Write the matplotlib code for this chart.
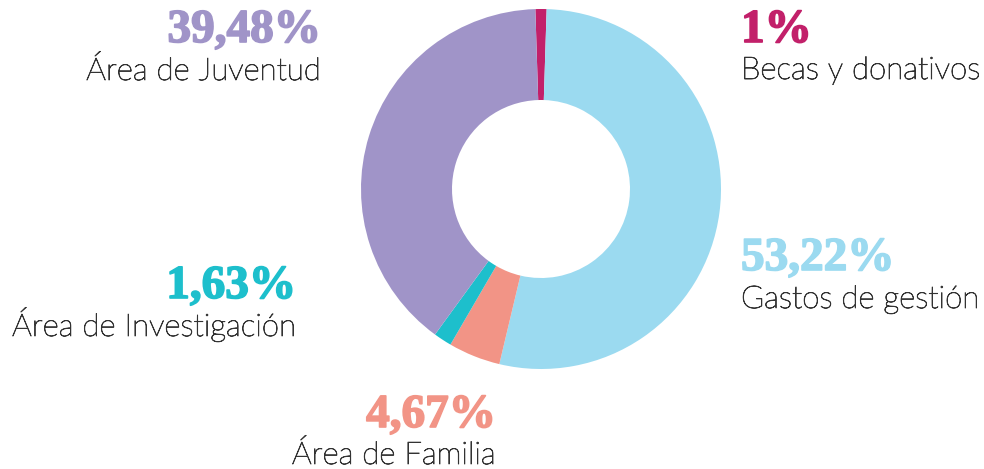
import matplotlib
matplotlib.use("Agg")
import matplotlib.pyplot as plt
import matplotlib.patheffects as pe

# data (clockwise from the top)
labels = ["Becas y donativos", "Gastos de gestión", "Área de Familia",
          "Área de Investigación", "Área de Juventud"]
values = [1.00, 53.22, 4.67, 1.63, 39.48]
pct_text = ["1%", "53,22%", "4,67%", "1,63%", "39,48%"]
colors = ["#C2206A", "#9BDAF0", "#F29486", "#1DBFCC", "#A094C8"]

W, H = 984, 469
fig = plt.figure(figsize=(W / 100, H / 100), dpi=100)
ax = fig.add_axes([0, 0, 1, 1])

cx, cy, r = 541, H - 189, 180
start = 90 + values[0] / 100 * 360 / 2
ax.pie(values, colors=colors, startangle=start, counterclock=False,
       center=(cx, cy), radius=r, frame=True,
       wedgeprops=dict(width=r - 89, linewidth=0))
ax.set_xlim(0, W)
ax.set_ylim(0, H)
ax.axis("off")

txt_col = "#333333"
num_font = dict(family="Liberation Serif", fontweight="bold", fontsize=34)
lab_font = dict(family="Lato", fontweight="light", fontsize=22.5, color=txt_col,
                path_effects=[pe.withStroke(linewidth=0.6, foreground=txt_col)])

# (x, baseline of number, baseline of label, alignment) in pixels from top
positions = [
    (741, 42, 79, "left"),
    (741, 270, 308, "left"),
    (496, 427, 464, "right"),
    (296, 298, 336, "right"),
    (321, 42, 80, "right"),
]

for (x, yn, yl, ha), p, lab, c in zip(positions, pct_text, labels, colors):
    ax.text(x, H - yn, p, ha=ha, va="baseline", color=c,
            path_effects=[pe.withStroke(linewidth=1.2, foreground=c)], **num_font)
    ax.text(x, H - yl, lab, ha=ha, va="baseline", **lab_font)

fig.savefig("out.png", dpi=100)
